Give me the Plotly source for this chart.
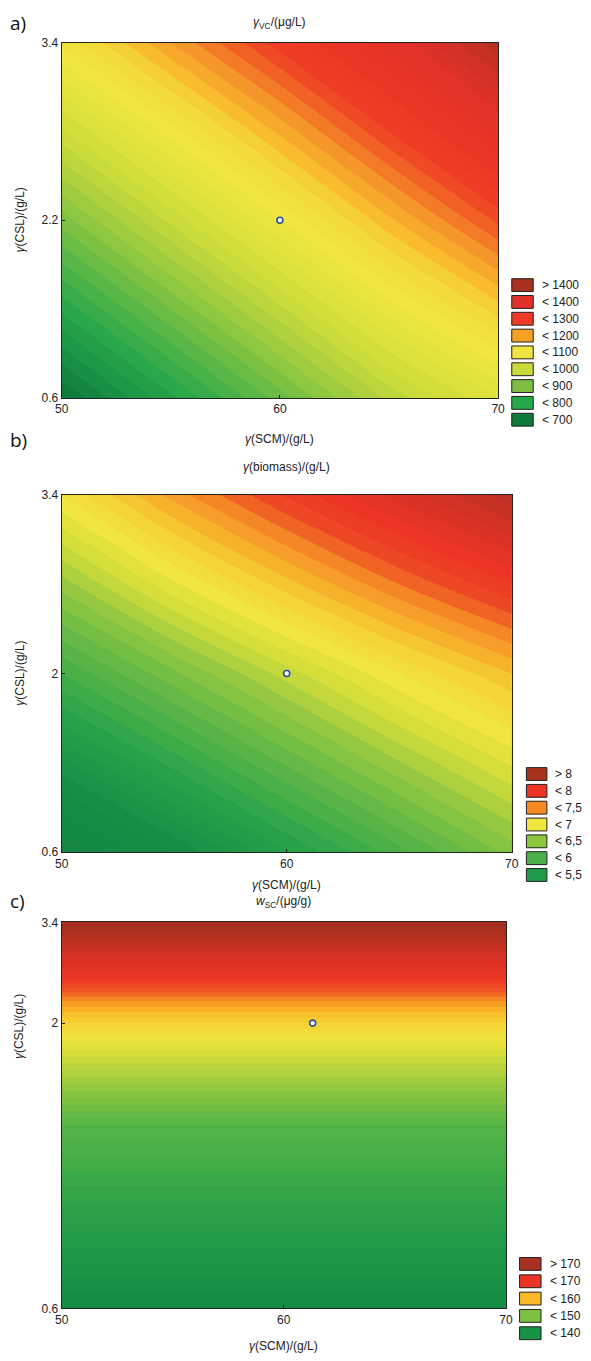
import plotly.graph_objects as go

W, H = 591, 1361

# ---------------- data ----------------
# panel a: gamma_VC / (ug/L)
a_x = [50, 55, 60, 65, 70]
a_y = [0.6, 1.3, 2.0, 2.7, 3.4]
a_z = [
    [640, 735, 830, 925, 1000],
    [745, 840, 935, 1030, 1110],
    [850, 945, 1040, 1135, 1225],
    [955, 1050, 1145, 1240, 1335],
    [1065, 1160, 1250, 1340, 1435],
]
a_levels = ["> 1400", "< 1400", "< 1300", "< 1200", "< 1100", "< 1000", "< 900", "< 800", "< 700"]
a_colors = ["#a8321f", "#e0322a", "#ee3a26", "#f5a224", "#f0e43e", "#cbd93a", "#7dbf43", "#25a84a", "#10793c"]
a_yticks = [0.6, 2.0, 3.4]
a_yticktext = ["0.6", "2.2", "3.4"]
a_center = (60, 2.0)

# panel b: gamma(biomass) / (g/L)
b_x = [50, 55, 60, 65, 70]
b_y = [0.6, 1.3, 2.0, 2.7, 3.4]
b_z = [
    [4.64, 5.01, 5.39, 5.76, 6.14],
    [5.17, 5.54, 5.92, 6.29, 6.62],
    [5.70, 6.08, 6.45, 6.80, 7.10],
    [6.25, 6.68, 7.06, 7.40, 7.70],
    [6.80, 7.25, 7.62, 7.95, 8.26],
]
b_levels = ["> 8", "< 8", "< 7,5", "< 7", "< 6,5", "< 6", "< 5,5"]
b_colors = ["#a8321f", "#ee3224", "#f58a23", "#f0e63e", "#8cc63f", "#4cb04a", "#1f9a48"]
b_yticks = [0.6, 2.0, 3.4]
b_yticktext = ["0.6", "2", "3.4"]
b_center = (60, 2.0)

# panel c: w_SC / (ug/g)
c_x = [50, 60, 70]
c_y = [0.6, 1.93, 2.43, 2.83, 3.15, 3.4]
c_z = [
    [128.0, 128.0, 128.0],
    [140.0, 140.0, 140.0],
    [150.0, 150.0, 150.0],
    [160.0, 160.0, 160.0],
    [170.0, 170.0, 170.0],
    [178.0, 178.0, 178.0],
]
c_levels = ["> 170", "< 170", "< 160", "< 150", "< 140"]
c_colors = ["#a8321f", "#ec3325", "#fbb829", "#7cc142", "#159447"]
c_yticks = [0.6, 2.67, 3.4]
c_yticktext = ["0.6", "2", "3.4"]
c_center = (61.3, 2.67)

x_ticks = [50, 60, 70]
x_ticktext = ["50", "60", "70"]

# ---------------- layout helpers ----------------
def fx(px):
    return px / W

def fy(py):
    return 1 - py / H

panels = [
    dict(key="", x=a_x, y=a_y, z=a_z, levels=a_levels, colors=a_colors,
         yticks=a_yticks, ytt=a_yticktext, center=a_center,
         box=(56, 36, 503, 395), zmin=600, zmax=1500, step=20,
         cs=[(600, "#0d7439"), (650, "#117a3c"), (700, "#1a9446"), (750, "#2aa74a"),
             (800, "#4fb447"), (850, "#7cc142"), (900, "#a8cf3e"), (950, "#cbdb3b"),
             (1000, "#e0e23d"), (1050, "#f1e63e"), (1100, "#f4d83a"), (1130, "#f8bc2e"),
             (1170, "#f5962a"), (1200, "#f26c24"), (1240, "#ee3d25"), (1300, "#ec3525"),
             (1350, "#e2322a"), (1400, "#cf3127"), (1450, "#a8301f"), (1500, "#9e2f1f")],
         title="<i>γ</i><sub>VC</sub>/(μg/L)", letter="a)", letter_y=16, title_y=16,
         xtitle_y=436, ytitle_y=215, leg_box=(517, 539), leg_y0=281, leg_dy=17, leg_tx=546),
    dict(key="2", x=b_x, y=b_y, z=b_z, levels=b_levels, colors=b_colors,
         yticks=b_yticks, ytt=b_yticktext, center=b_center,
         box=(56, 493, 517, 854), zmin=4.5, zmax=8.5, step=0.1,
         cs=[(4.5, "#128443"), (5.0, "#168c44"), (5.5, "#2aa44a"), (5.75, "#4cb048"),
             (6.0, "#6cbb45"), (6.25, "#95c840"), (6.5, "#d0dc3b"), (6.75, "#f0e63e"),
             (7.0, "#f6d034"), (7.2, "#f8a82a"), (7.4, "#f37a24"), (7.5, "#ef4c25"),
             (7.75, "#ec3525"), (8.0, "#d63226"), (8.5, "#a02f1f")],
         title="<i>γ</i>(biomass)/(g/L)", letter="b)", letter_y=438, title_y=465,
         xtitle_y=887, ytitle_y=673, leg_box=(532, 553), leg_y0=775, leg_dy=17, leg_tx=559),
    dict(key="3", x=c_x, y=c_y, z=c_z, levels=c_levels, colors=c_colors,
         yticks=c_yticks, ytt=c_yticktext, center=c_center,
         box=(56, 925, 511, 1315), zmin=128, zmax=178, step=1,
         cs=[(128, "#138a43"), (134, "#2aa048"), (140, "#55b547"), (145, "#8cc63f"),
             (150, "#d2dc3a"), (153, "#f0e43e"), (156, "#f6d234"), (158, "#fbb829"),
             (160, "#f7941f"), (162, "#f05a25"), (165, "#ec3525"), (170, "#d83226"),
             (174, "#b8311f"), (178, "#a02f1f")],
         title="<i>w</i><sub>SC</sub>/(μg/g)", letter="c)", letter_y=903, title_y=904,
         xtitle_y=1353, ytitle_y=1030, leg_box=(525, 547), leg_y0=1270, leg_dy=17.5, leg_tx=554),
]

fig = go.Figure()
annotations = []
shapes = []
FONT = "Liberation Sans, Arial, sans-serif"

for p in panels:
    k = p["key"]
    xa = "x" + k
    ya = "y" + k
    lo, hi = p["zmin"], p["zmax"]
    cs = [[(v - lo) / (hi - lo), c] for v, c in p["cs"]]
    fig.add_trace(go.Contour(
        x=p["x"], y=p["y"], z=p["z"], xaxis=xa, yaxis=ya,
        colorscale=cs, zmin=lo, zmax=hi, autocontour=False,
        contours=dict(start=lo, end=hi, size=p["step"],
                      coloring="fill", showlines=False),
        line=dict(width=0), showscale=False, hoverinfo="skip",
    ))
    fig.add_trace(go.Scatter(
        x=[p["center"][0]], y=[p["center"][1]], xaxis=xa, yaxis=ya, mode="markers",
        marker=dict(size=6, color="white", line=dict(color="#2b4f9e", width=1.6)),
        showlegend=False, hoverinfo="skip",
    ))
    x0, y0, x1, y1 = p["box"]
    axis_common = dict(showline=True, mirror=True, linecolor="#222", linewidth=1,
                       ticks="inside", ticklen=3, tickcolor="#222", showgrid=False,
                       zeroline=False, tickfont=dict(family=FONT, size=12, color="#222"))
    fig.layout["xaxis" + k] = dict(domain=[fx(x0), fx(x1)], anchor=ya, range=[50, 70],
                                   tickvals=x_ticks, ticktext=x_ticktext, **axis_common)
    fig.layout["yaxis" + k] = dict(domain=[fy(y1), fy(y0)], anchor=xa, range=[0.6, 3.4],
                                   tickvals=p["yticks"], ticktext=p["ytt"], **axis_common)
    cx = (x0 + x1) / 2
    annotations.append(dict(text=p["title"], x=fx(cx), y=fy(p["title_y"]), xref="paper", yref="paper",
                            showarrow=False, xanchor="center", yanchor="middle",
                            font=dict(family=FONT, size=12, color="#222")))
    annotations.append(dict(text=p["letter"], x=fx(1), y=fy(p["letter_y"]), xref="paper", yref="paper",
                            showarrow=False, xanchor="left", yanchor="middle",
                            font=dict(family="Open Sans, sans-serif", size=19, color="#111")))
    annotations.append(dict(text="<i>γ</i>(SCM)/(g/L)", x=fx(cx), y=fy(p["xtitle_y"]), xref="paper", yref="paper",
                            showarrow=False, xanchor="center", yanchor="middle",
                            font=dict(family=FONT, size=12, color="#222")))
    annotations.append(dict(text="<i>γ</i>(CSL)/(g/L)", x=fx(13), y=fy(p["ytitle_y"]), xref="paper", yref="paper",
                            showarrow=False, xanchor="center", yanchor="middle", textangle=-90,
                            font=dict(family=FONT, size=12, color="#222")))
    bx0, bx1 = p["leg_box"]
    for i, (lab, col) in enumerate(zip(p["levels"], p["colors"])):
        yc = p["leg_y0"] + i * p["leg_dy"]
        shapes.append(dict(type="rect", xref="paper", yref="paper",
                           x0=fx(bx0), x1=fx(bx1), y0=fy(yc + 6.5), y1=fy(yc - 6.5),
                           fillcolor=col, line=dict(color="#222", width=1)))
        annotations.append(dict(text=lab, x=fx(p["leg_tx"]), y=fy(yc), xref="paper", yref="paper",
                                showarrow=False, xanchor="left", yanchor="middle",
                                font=dict(family=FONT, size=12, color="#222")))

fig.update_layout(
    width=W, height=H, margin=dict(l=0, r=0, t=0, b=0),
    paper_bgcolor="white", plot_bgcolor="white", showlegend=False,
    annotations=annotations, shapes=shapes,
)

fig.write_html("out.html")
